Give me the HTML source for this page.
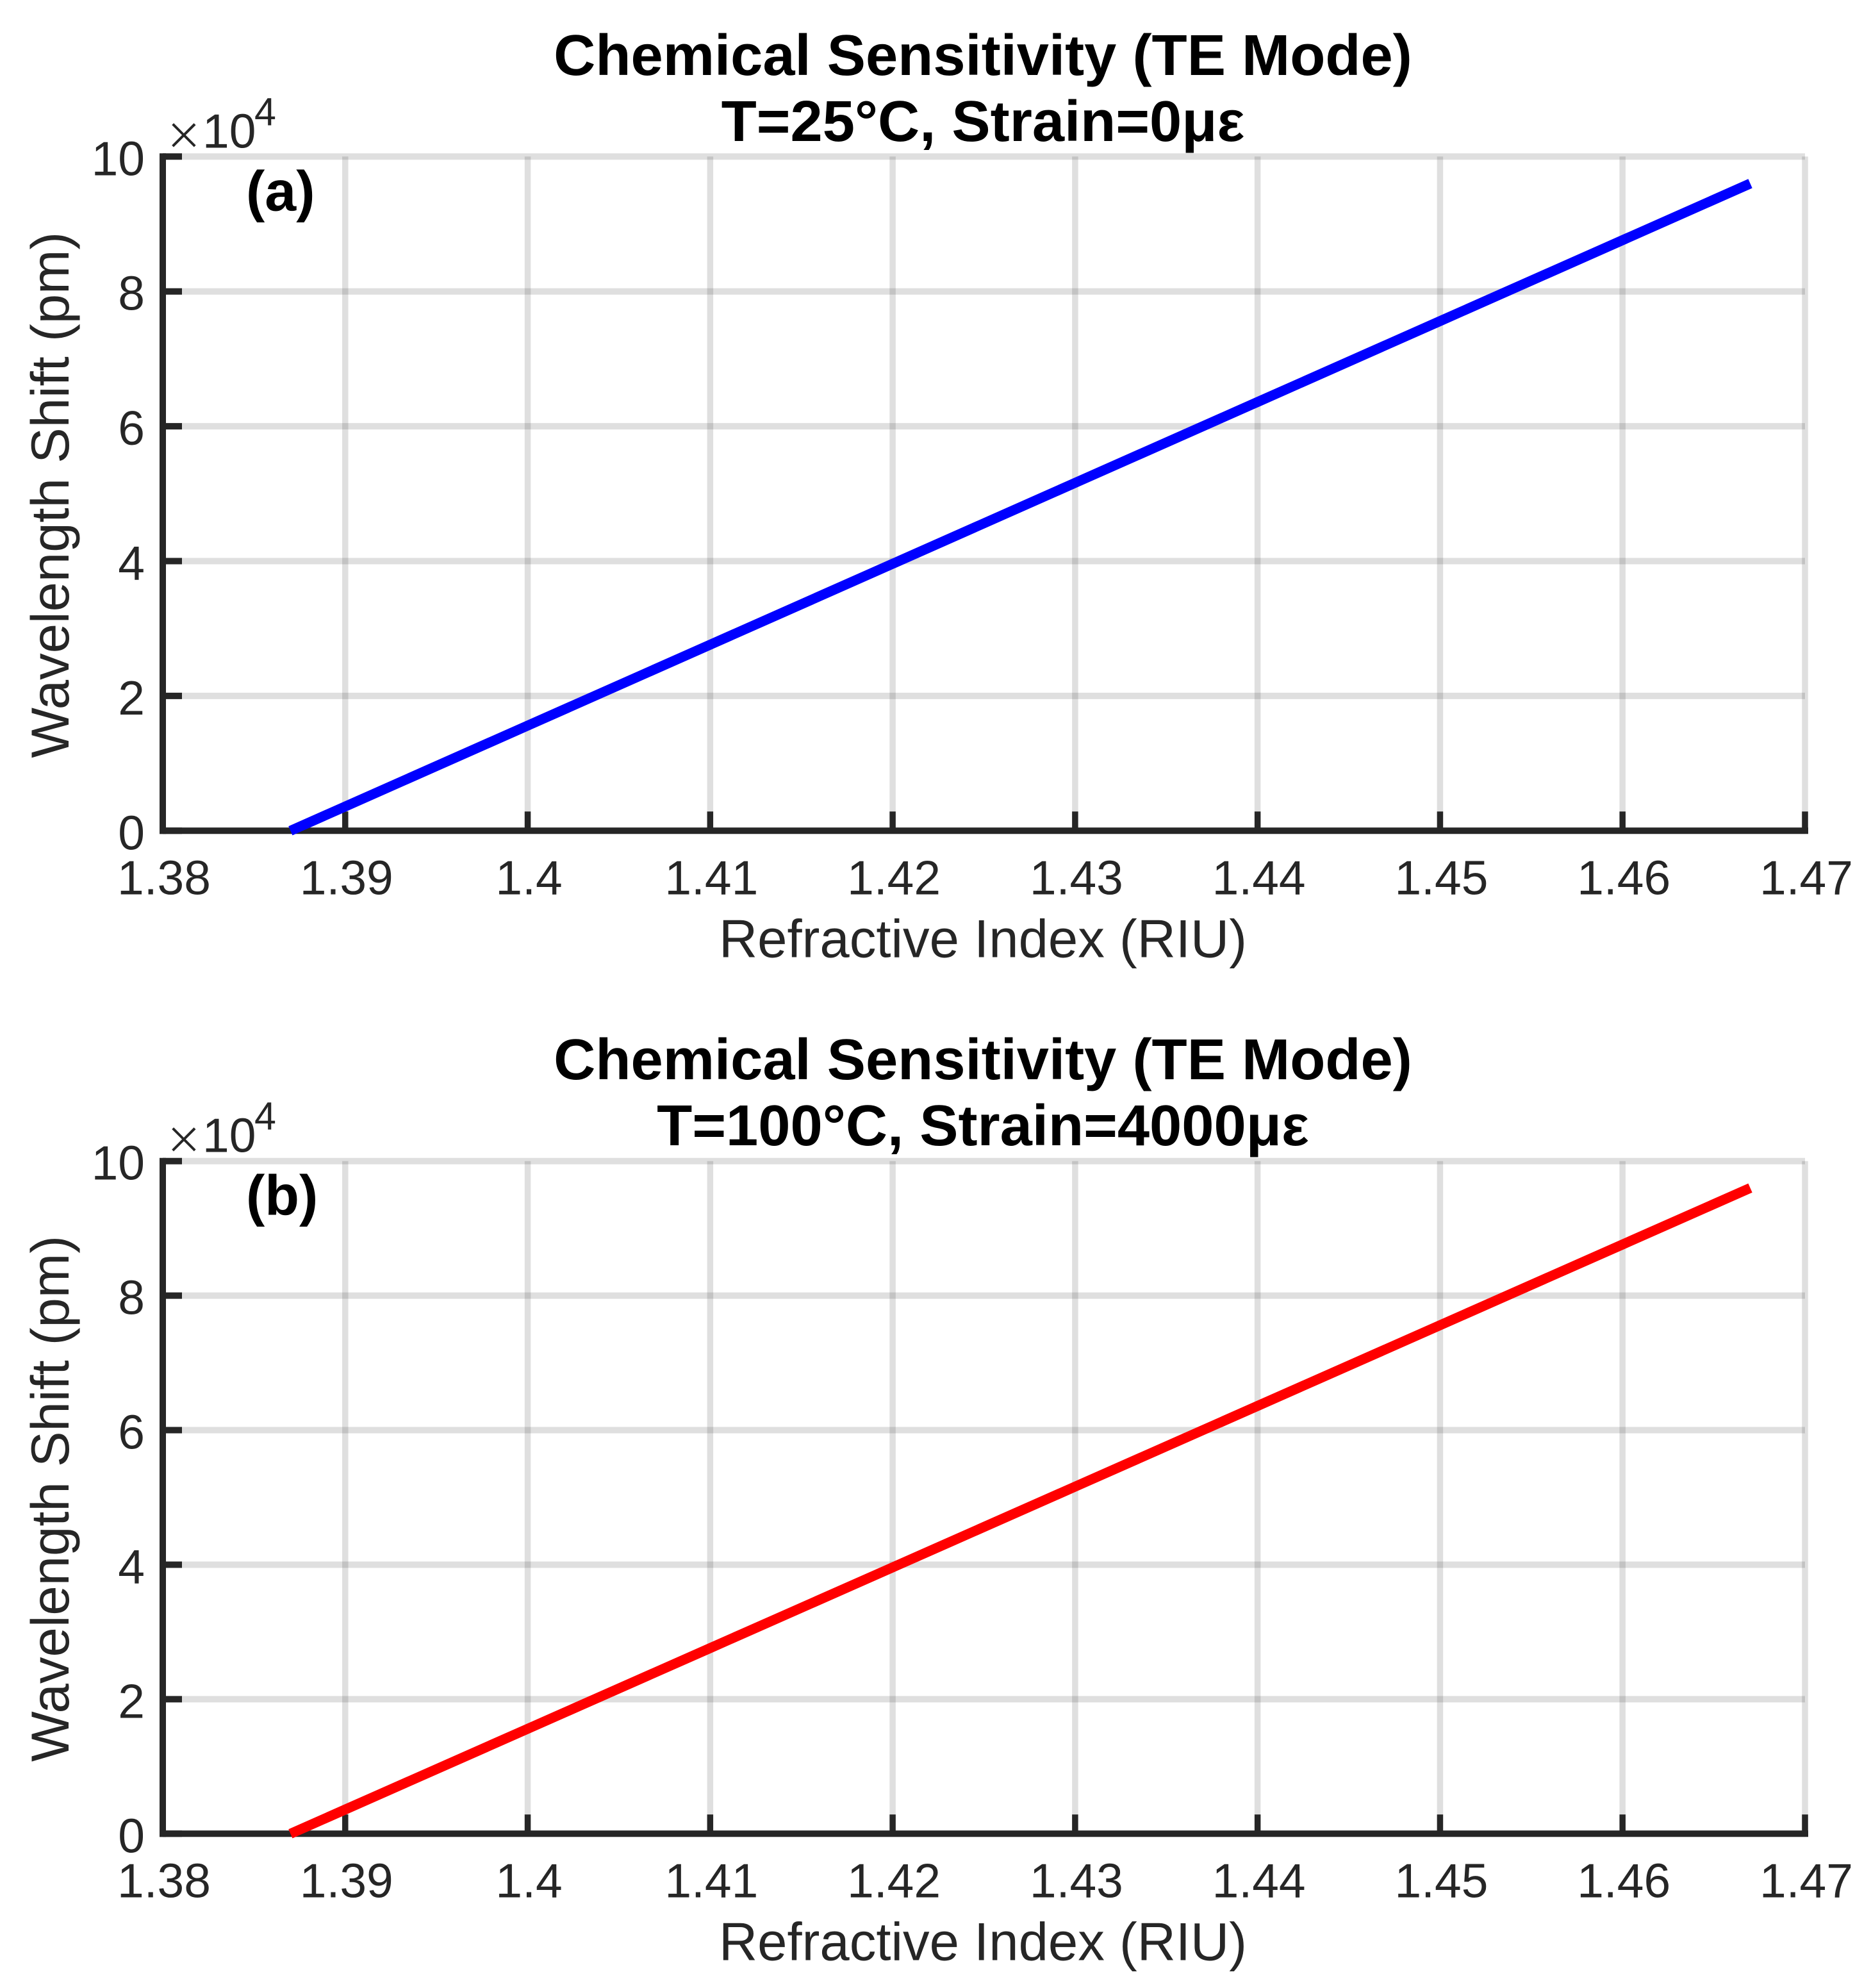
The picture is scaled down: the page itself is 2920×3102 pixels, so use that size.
<!DOCTYPE html>
<html lang="en">
<head>
<meta charset="utf-8">
<title>Chemical Sensitivity (TE Mode)</title>
<style>
  html, body { margin: 0; padding: 0; background: #ffffff; }
  body { width: 2920px; height: 3102px; overflow: hidden; }
  svg { display: block; }
  text { font-family: "Liberation Sans", Arial, sans-serif; }
  .tick-text { font-size: 75px; fill: #262626; }
  .axis-title { font-size: 83.3px; fill: #262626; }
  .chart-title { font-size: 90.3px; font-weight: bold; fill: #000000; text-anchor: middle; }
  .panel-tag { font-size: 88px; font-weight: bold; fill: #000000; }
</style>
</head>
<body>
<svg id="figure" xmlns="http://www.w3.org/2000/svg" width="2920" height="3102" viewBox="0 0 2920 3102">
  <rect x="0" y="0" width="2920" height="3102" fill="#ffffff"/>
  <g id="panel-a">
    <text class="chart-title" x="1534" y="117">Chemical Sensitivity (TE Mode)</text>
    <text class="chart-title" x="1534" y="220">T=25°C, Strain=0με</text>
  </g>
  <g id="panel-b">
    <text class="chart-title" x="1534" y="1684">Chemical Sensitivity (TE Mode)</text>
    <text class="chart-title" x="1534" y="1787">T=100°C, Strain=4000με</text>
  </g>
</svg>
<script>
const refractiveIndex = [1.387, 1.39, 1.40, 1.41, 1.42, 1.43, 1.44, 1.45, 1.46, 1.467];
const shiftPanelA = [0, 0.36, 1.56, 2.76, 3.96, 5.16, 6.36, 7.56, 8.76, 9.6];
const shiftPanelB = [0, 0.36, 1.56, 2.76, 3.96, 5.16, 6.36, 7.56, 8.76, 9.6];
const xTickValues = [1.38, 1.39, 1.40, 1.41, 1.42, 1.43, 1.44, 1.45, 1.46, 1.47];
const xTickLabels = ['1.38', '1.39', '1.4', '1.41', '1.42', '1.43', '1.44', '1.45', '1.46', '1.47'];
const yTickValues = [0, 2, 4, 6, 8, 10];
const yTickLabels = ['0', '2', '4', '6', '8', '10'];
const xDomain = [1.38, 1.47];
const yDomain = [0, 10];

const SVG_NS = 'http://www.w3.org/2000/svg';

function add(parent, tag, attrs, content) {
  const el = document.createElementNS(SVG_NS, tag);
  for (const key in attrs) el.setAttribute(key, attrs[key]);
  if (content !== undefined) el.textContent = content;
  parent.appendChild(el);
  return el;
}

function drawPanel(panelId, top, bottom, xValues, yValues, lineColor, tag) {
  const group = document.getElementById(panelId);
  const left = 254;
  const right = 2817;
  const xScale = v => left + (v - xDomain[0]) / (xDomain[1] - xDomain[0]) * (right - left);
  const yScale = v => bottom - (v - yDomain[0]) / (yDomain[1] - yDomain[0]) * (bottom - top);
  const gridColor = 'rgba(38,38,38,0.15)';
  const inkColor = '#262626';

  yTickValues.forEach((value, i) => {
    const line = add(group, 'line', { x1: left, x2: right, y1: yScale(value), y2: yScale(value), stroke: gridColor, 'stroke-width': 10 });
    
    
  });

  xTickValues.forEach((value, i) => {
    const line = add(group, 'line', { x1: xScale(value), x2: xScale(value), y1: top, y2: bottom, stroke: gridColor, 'stroke-width': 9.5 });
    
    
  });

  yTickValues.forEach((value, i) => {
    const mark = add(group, 'line', { x1: left, x2: left + 30, y1: yScale(value), y2: yScale(value), stroke: inkColor, 'stroke-width': 10 });
    
    
    const label = add(group, 'text', { class: 'tick-text', x: 226, y: yScale(value) + 29, 'text-anchor': 'end' }, yTickLabels[i]);
    
    
  });

  xTickValues.forEach((value, i) => {
    const mark = add(group, 'line', { x1: xScale(value), x2: xScale(value), y1: bottom, y2: bottom - 30, stroke: inkColor, 'stroke-width': 9.5 });
    
    
    const label = add(group, 'text', { class: 'tick-text', x: xScale(value) + 2, y: bottom + 99, 'text-anchor': 'middle' }, xTickLabels[i]);
    
    
  });

  const yAxis = add(group, 'line', { x1: left, x2: left, y1: top - 5, y2: bottom + 5, stroke: inkColor, 'stroke-width': 10 });
  
  

  const xAxis = add(group, 'line', { x1: left - 5, x2: right + 5, y1: bottom, y2: bottom, stroke: inkColor, 'stroke-width': 10 });
  
  

  const points = xValues.map((x, i) => xScale(x).toFixed(2) + ',' + yScale(yValues[i]).toFixed(2)).join(' ');
  const series = add(group, 'polyline', { points: points, fill: 'none', stroke: lineColor, 'stroke-width': 15.5, 'stroke-linecap': 'butt', 'stroke-linejoin': 'round' });
  
  

  const tagText = add(group, 'text', { class: 'panel-tag', x: 384, y: top + 84 }, tag);
  
  

  const times = add(group, 'text', { x: 260, y: top - 3, 'font-size': 92, fill: '#262626', stroke: '#ffffff', 'stroke-width': 2.5 }, '×');
  
  

  const base = add(group, 'text', { class: 'tick-text', x: 316, y: top - 14 }, '10');
  
  

  const power = add(group, 'text', { x: 397, y: top - 49, 'font-size': 61, fill: '#262626' }, '4');
  
  

  const xTitle = add(group, 'text', { class: 'axis-title', x: 1534, y: bottom + 197, 'text-anchor': 'middle' }, 'Refractive Index (RIU)');
  
  

  const yMid = (top + bottom) / 2 + 2;
  const yTitle = add(group, 'text', { class: 'axis-title', x: 107, y: yMid, 'text-anchor': 'middle', transform: 'rotate(-90 107 ' + yMid + ')' }, 'Wavelength Shift (pm)');
  
  
}

drawPanel('panel-a', 244.3, 1296.3, refractiveIndex, shiftPanelA, '#0000ff', '(a)');
drawPanel('panel-b', 1811.7, 2861.3, refractiveIndex, shiftPanelB, '#ff0000', '(b)');
</script>
</body>
</html>
